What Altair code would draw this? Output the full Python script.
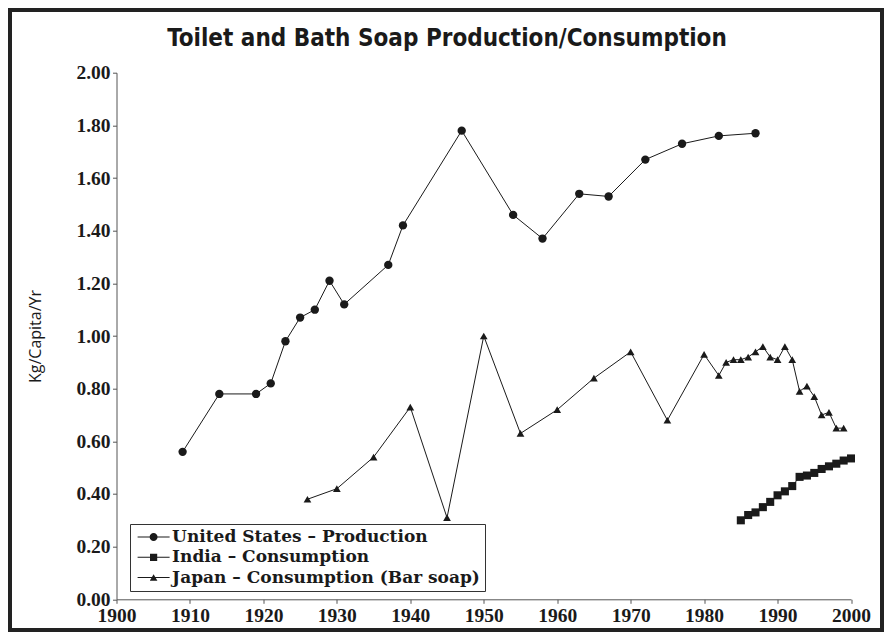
import altair as alt
import pandas as pd

# ---------------- data ----------------
chart_title = "Toilet and Bath Soap Production/Consumption"
series_names = [
    "United States – Production",
    "India – Consumption",
    "Japan – Consumption (Bar soap)",
]

us_years = [1909, 1914, 1919, 1921, 1923, 1925, 1927, 1929, 1931, 1937,
            1939, 1947, 1954, 1958, 1963, 1967, 1972, 1977, 1982, 1987]
us_values = [0.56, 0.78, 0.78, 0.82, 0.98, 1.07, 1.10, 1.21, 1.12, 1.27,
             1.42, 1.78, 1.46, 1.37, 1.54, 1.53, 1.67, 1.73, 1.76, 1.77]

india_years = [1985, 1986, 1987, 1988, 1989, 1990, 1991, 1992,
               1993, 1994, 1995, 1996, 1997, 1998, 1999, 2000]
india_values = [0.30, 0.32, 0.33, 0.35, 0.37, 0.395, 0.41, 0.43,
                0.465, 0.47, 0.48, 0.495, 0.505, 0.515, 0.527, 0.535]

japan_years = [1926, 1930, 1935, 1940, 1945, 1950, 1955, 1960, 1965, 1970,
               1975, 1980, 1982, 1983, 1984, 1985, 1986, 1987, 1988, 1989,
               1990, 1991, 1992, 1993, 1994, 1995, 1996, 1997, 1998, 1999]
japan_values = [0.38, 0.42, 0.54, 0.73, 0.31, 1.00, 0.63, 0.72, 0.84, 0.94,
                0.68, 0.93, 0.85, 0.90, 0.91, 0.91, 0.92, 0.94, 0.96, 0.92,
                0.91, 0.96, 0.91, 0.79, 0.81, 0.77, 0.70, 0.71, 0.65, 0.65]

x_ticks = [1900, 1910, 1920, 1930, 1940, 1950, 1960, 1970, 1980, 1990, 2000]
y_ticks = [0.0, 0.2, 0.4, 0.6, 0.8, 1.0, 1.2, 1.4, 1.6, 1.8, 2.0]

# ---------------- styling ----------------
INK = "#1a1a1a"
AXIS = "#555555"
SERIF = "Liberation Serif"
LEGEND_SERIF = "DejaVu Serif"
SANS = "Open Sans"
TITLE_FONT = "Liberation Sans Narrow, DejaVu Sans Condensed, DejaVu Sans"

marker_shapes = ["circle", "square", "triangle-up"]
marker_sizes = [70, 60, 78]
BAR = "M-4,-0.13H4V0.13H-4Z"
legend_paths = [
    BAR + "M1,0A1,1,0,1,1,-1,0A1,1,0,1,1,1,0Z",
    BAR + "M-0.9,-0.9H0.9V0.9H-0.9Z",
    BAR + "M0,-0.85L0.95,0.8H-0.95Z",
]

rows = []
for name, ys, vs in [(series_names[0], us_years, us_values),
                     (series_names[1], india_years, india_values),
                     (series_names[2], japan_years, japan_values)]:
    for yr, v in zip(ys, vs):
        rows.append({"series": name, "year": yr, "value": v})
df = pd.DataFrame(rows)

x_enc = alt.X(
    "year:Q",
    scale=alt.Scale(domain=[1900, 2000], nice=False, zero=False),
    axis=alt.Axis(values=x_ticks, format="d", title=None, grid=False,
                  tickSize=4, labelFont=SERIF, labelFontSize=19.5,
                  labelFontWeight="bold", labelColor=INK, labelPadding=3,
                  domainColor=AXIS, tickColor=AXIS, labelFlush=False),
)
y_enc = alt.Y(
    "value:Q",
    scale=alt.Scale(domain=[0, 2], nice=False),
    axis=alt.Axis(values=y_ticks, format=".2f", title="Kg/Capita/Yr",
                  titleFont=SANS, titleFontSize=16, titleFontWeight="normal",
                  titleColor=INK, titleX=-81.5, titleY=263.3, titleAngle=270,
                  titleBaseline="middle", titleAlign="center",
                  grid=False, tickSize=4, labelFont=SERIF, labelFontSize=19.5,
                  labelFontWeight="bold", labelColor=INK, labelPadding=2.5,
                  domainColor=AXIS, tickColor=AXIS),
)

base = alt.Chart(df)

lines = base.mark_line(color=INK, strokeWidth=1).encode(
    x=x_enc, y=y_enc, detail="series:N"
)

points = base.mark_point(filled=True, color=INK, opacity=1).encode(
    x=x_enc, y=y_enc,
    shape=alt.Shape("series:N",
                    scale=alt.Scale(domain=series_names, range=marker_shapes),
                    legend=None),
    size=alt.Size("series:N",
                  scale=alt.Scale(domain=series_names, range=marker_sizes),
                  legend=None),
)

legend_layer = base.mark_point(filled=True, fill=INK, opacity=0).encode(
    x=x_enc, y=y_enc,
    shape=alt.Shape(
        "series:N",
        scale=alt.Scale(domain=series_names, range=legend_paths),
        legend=alt.Legend(
            title=None, orient="none", legendX=13.5, legendY=451.3,
            direction="vertical", fillColor="white", strokeColor="#333333",
            padding=4.5, symbolSize=64, symbolOffset=10.6,
            symbolStrokeWidth=0, symbolFillColor=INK,
            symbolOpacity=1, labelFont=LEGEND_SERIF, labelFontSize=17,
            labelFontWeight="bold", labelColor=INK, labelOffset=10,
            labelLimit=0, rowPadding=2.3,
        ),
    ),
)

one = pd.DataFrame({"k": [0]})

frame = alt.Chart(one).mark_rect(
    fill=None, stroke="#222222", strokeWidth=4
).encode(
    x=alt.value(-106.5), x2=alt.value(765.5),
    y=alt.value(-62.7), y2=alt.value(557.3),
)

title_layer = alt.Chart(one).mark_text(
    text=chart_title, font=TITLE_FONT, fontSize=24, fontWeight="bold",
    color=INK, align="center", baseline="alphabetic",
).encode(x=alt.value(330.5), y=alt.value(-26.7))

chart = (
    alt.layer(frame, title_layer, lines, points, legend_layer)
    .resolve_scale(shape="independent", size="independent")
    .properties(
        width=734.5,
        height=526.6,
        autosize=alt.AutoSizeParams(type="none"),
        padding={"left": 108.5, "top": 64.7, "right": 33, "bottom": 32.7},
        background="white",
    )
    .configure_view(stroke=None)
)

chart.save("out.html", embed_options={"renderer": "svg", "actions": False})
